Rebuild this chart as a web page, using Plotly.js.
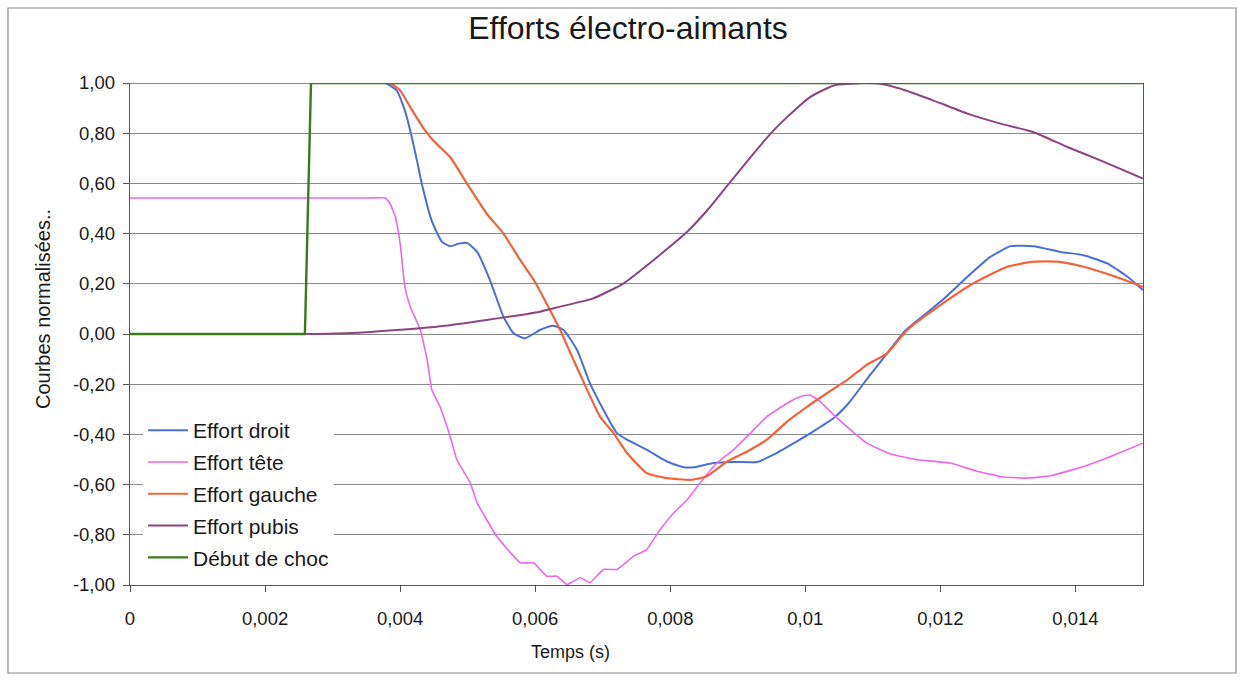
<!DOCTYPE html>
<html>
<head>
<meta charset="utf-8">
<script src="https://cdn.plot.ly/plotly-3.0.1.min.js"></script>
<style>
  html, body { margin: 0; padding: 0; background: #ffffff; }
  #chart { width: 1242px; height: 680px; }
</style>
</head>
<body>
<div id="chart"></div>
<script>
// ---- Data ----
const droitX = [0, 0.002, 0.0035, 0.00378, 0.00395, 0.00407, 0.00415, 0.00425, 0.00432, 0.00447, 0.00462, 0.00474, 0.00487, 0.00499, 0.00514, 0.00533, 0.00553, 0.00568, 0.00585, 0.00607, 0.00627, 0.00642, 0.00662, 0.00681, 0.00701, 0.00721, 0.00736, 0.00765, 0.00795, 0.00820, 0.00835, 0.00864, 0.00894, 0.00928, 0.00953, 0.00983, 0.01012, 0.01042, 0.01064, 0.01094, 0.01121, 0.01149, 0.0120, 0.0124, 0.01274, 0.01304, 0.01338, 0.01378, 0.01412, 0.01447, 0.01477, 0.015];
const droitY = [1, 1, 1, 1, 0.97, 0.89, 0.81, 0.69, 0.60, 0.45, 0.367, 0.35, 0.36, 0.363, 0.327, 0.215, 0.069, 0.003, -0.017, 0.016, 0.033, 0.016, -0.064, -0.196, -0.302, -0.395, -0.421, -0.461, -0.508, -0.531, -0.531, -0.514, -0.510, -0.510, -0.481, -0.435, -0.388, -0.335, -0.276, -0.17, -0.077, 0.016, 0.128, 0.228, 0.307, 0.350, 0.350, 0.327, 0.314, 0.281, 0.228, 0.175];

const teteX = [0, 0.002, 0.0035, 0.00378, 0.00385, 0.00393, 0.0040, 0.00407, 0.00415, 0.0043, 0.0044, 0.00447, 0.00459, 0.00474, 0.00484, 0.00504, 0.00514, 0.00543, 0.00563, 0.00578, 0.00598, 0.00617, 0.00632, 0.00647, 0.00667, 0.00681, 0.00701, 0.00721, 0.00746, 0.00765, 0.00785, 0.00805, 0.00825, 0.00844, 0.00869, 0.00894, 0.00914, 0.00943, 0.00973, 0.00993, 0.01007, 0.01022, 0.01042, 0.01067, 0.01091, 0.01126, 0.01165, 0.01215, 0.01254, 0.01294, 0.01329, 0.01363, 0.01412, 0.01452, 0.015];
const teteY = [0.542, 0.542, 0.542, 0.542, 0.52, 0.466, 0.361, 0.188, 0.109, 0.016, -0.103, -0.223, -0.289, -0.408, -0.501, -0.594, -0.673, -0.806, -0.87, -0.912, -0.912, -0.965, -0.965, -0.998, -0.971, -0.991, -0.938, -0.938, -0.885, -0.859, -0.779, -0.713, -0.660, -0.594, -0.514, -0.461, -0.408, -0.329, -0.276, -0.249, -0.243, -0.269, -0.322, -0.382, -0.435, -0.478, -0.501, -0.514, -0.547, -0.570, -0.574, -0.565, -0.528, -0.488, -0.435];

const gaucheX = [0, 0.002, 0.0035, 0.00385, 0.0040, 0.00415, 0.00435, 0.00449, 0.00474, 0.00499, 0.00528, 0.00553, 0.00578, 0.00598, 0.00622, 0.00637, 0.00652, 0.00677, 0.00696, 0.00716, 0.00736, 0.00765, 0.00795, 0.00830, 0.00854, 0.00884, 0.00914, 0.00943, 0.00973, 0.01003, 0.01032, 0.01062, 0.01091, 0.01121, 0.01151, 0.0120, 0.01249, 0.01299, 0.01338, 0.01373, 0.01412, 0.01452, 0.015];
const gaucheY = [1, 1, 1, 1, 0.97, 0.904, 0.818, 0.771, 0.705, 0.599, 0.48, 0.40, 0.294, 0.215, 0.095, 0.016, -0.075, -0.223, -0.329, -0.395, -0.474, -0.554, -0.574, -0.581, -0.567, -0.508, -0.468, -0.421, -0.349, -0.289, -0.236, -0.183, -0.123, -0.077, 0.016, 0.115, 0.202, 0.268, 0.288, 0.288, 0.268, 0.235, 0.188];

const pubisX = [0, 0.0013, 0.0026, 0.00336, 0.00395, 0.00454, 0.00528, 0.00607, 0.00637, 0.00686, 0.00731, 0.00775, 0.00825, 0.00859, 0.00889, 0.00923, 0.00953, 0.00973, 0.01007, 0.01042, 0.01067, 0.01090, 0.01111, 0.01141, 0.0119, 0.0124, 0.01289, 0.01338, 0.01388, 0.01437, 0.015];
const pubisY = [0, 0, 0, 0.005, 0.016, 0.029, 0.056, 0.089, 0.109, 0.142, 0.202, 0.294, 0.407, 0.506, 0.606, 0.718, 0.811, 0.864, 0.944, 0.990, 0.997, 1.0, 0.997, 0.977, 0.930, 0.878, 0.838, 0.804, 0.745, 0.692, 0.619];

const chocX = [0, 0.00259, 0.00268, 0.015];
const chocY = [0, 0, 1, 1];

const seriesNames = ["Effort droit", "Effort tête", "Effort gauche", "Effort pubis", "Début de choc"];

const yTickVals = [1, 0.8, 0.6, 0.4, 0.2, 0, -0.2, -0.4, -0.6, -0.8, -1];
const yTickText = ["1,00", "0,80", "0,60", "0,40", "0,20", "0,00", "-0,20", "-0,40", "-0,60", "-0,80", "-1,00"];
const xTickVals = [0, 0.002, 0.004, 0.006, 0.008, 0.01, 0.012, 0.014];
const xTickText = ["0", "0,002", "0,004", "0,006", "0,008", "0,01", "0,012", "0,014"];

const titleText = "Efforts électro-aimants";
const xTitleText = "Temps (s)";
const yTitleText = "Courbes normalisées..";

// ---- Traces ----
const FONT = "Liberation Sans, Arial, sans-serif";
function tr(x, y, name, color, width, shape, smooth, grp) {
  return {
    type: "scatter", mode: "lines", x: x, y: y, name: name, legendgroup: grp,
    line: {color: color, width: width, shape: shape, smoothing: smooth},
    hoverinfo: "skip"
  };
}
const data = [
  tr(droitX, droitY, seriesNames[0], "#4a6fd6", 2, "spline", 0.5, "g1"),
  tr(teteX, teteY, seriesNames[1], "#ea6ae6", 1.6, "spline", 0.35, "g2"),
  tr(gaucheX, gaucheY, seriesNames[2], "#f0643c", 2.2, "spline", 0.5, "g3"),
  tr(pubisX, pubisY, seriesNames[3], "#8a4583", 2, "spline", 0.5, "g4"),
  tr(chocX, chocY, seriesNames[4], "#3a7a1c", 2.4, "linear", 0, "g5")
];

// plot area in pixels: x 130..1143, y 83..585
const L = 130, R = 99, T = 83, B = 95;
const PW = 1242 - L - R, PH = 680 - T - B;
const px2x = p => (p - L) / PW;
const py2y = p => (680 - B - p) / PH;

const layout = {
  width: 1242, height: 680,
  margin: {l: L, r: R, t: T, b: B},
  paper_bgcolor: "#ffffff",
  plot_bgcolor: "#ffffff",
  font: {family: FONT, color: "#1a1a1a", size: 18},
  title: {
    text: titleText,
    font: {family: FONT, size: 32, color: "#1a1a1a"},
    xref: "paper", x: px2x(628), xanchor: "center",
    yref: "container", y: 1 - 28 / 680, yanchor: "middle"
  },
  xaxis: {
    range: [0, 0.015],
    tickvals: xTickVals, ticktext: xTickText,
    ticks: "outside", ticklen: 6, tickcolor: "#555", tickwidth: 1,
    ticklabelstandoff: 11,
    showgrid: false, zeroline: false,
    showline: true, linecolor: "#555", linewidth: 1.2,
    tickfont: {family: FONT, size: 18.5, color: "#1a1a1a"},
    fixedrange: true
  },
  yaxis: {
    range: [-1, 1],
    tickvals: yTickVals, ticktext: yTickText,
    ticks: "outside", ticklen: 6, tickcolor: "#555", tickwidth: 1,
    ticklabelstandoff: 4,
    showgrid: true, gridcolor: "#8a8a8a", gridwidth: 1,
    zeroline: false,
    showline: true, linecolor: "#555", linewidth: 1.2, mirror: true,
    tickfont: {family: FONT, size: 18.5, color: "#1a1a1a"},
    fixedrange: true
  },
  showlegend: true,
  legend: {
    x: px2x(143), xanchor: "left",
    y: py2y(410), yanchor: "top",
    bgcolor: "#ffffff", borderwidth: 0,
    font: {family: FONT, size: 21, color: "#1a1a1a"},
    traceorder: "grouped", tracegroupgap: 1.5,
    itemwidth: 40
  },
  annotations: [
    {text: yTitleText, xref: "paper", yref: "paper", x: px2x(43), y: py2y(309),
     textangle: -90, showarrow: false, xanchor: "center", yanchor: "middle",
     font: {family: FONT, size: 20, color: "#1a1a1a"}},
    {text: xTitleText, xref: "paper", yref: "paper", x: px2x(570), y: py2y(652),
     showarrow: false, xanchor: "center", yanchor: "middle",
     font: {family: FONT, size: 18, color: "#1a1a1a"}}
  ],
  shapes: [
    {type: "rect", xref: "paper", yref: "paper",
     x0: px2x(8), x1: px2x(1236), y0: py2y(673), y1: py2y(8),
     line: {color: "#8a8a8a", width: 1.2}, fillcolor: "rgba(0,0,0,0)", layer: "below"}
  ]
};

Plotly.newPlot("chart", data, layout, {staticPlot: true, displayModeBar: false});
</script>
</body>
</html>
